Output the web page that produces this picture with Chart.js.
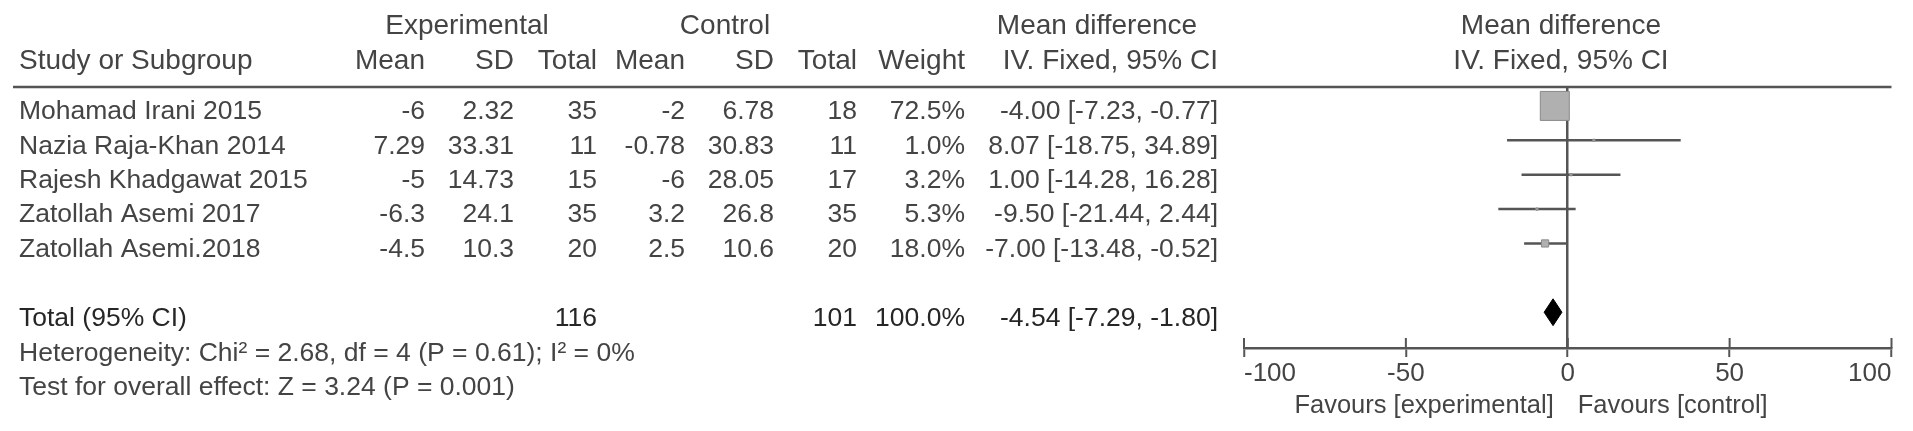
<!DOCTYPE html>
<html>
<head>
<meta charset="utf-8">
<script src="https://cdn.jsdelivr.net/npm/chart.js@4/dist/chart.umd.min.js"></script>
<style>
  body { margin: 0; background: #fff; }
  #wrap { width: 1913px; height: 431px; }
</style>
</head>
<body>
<div id="wrap"><canvas id="forest" width="1913" height="431"></canvas></div>
<script>
// study data
const studies = ['Mohamad Irani 2015', 'Nazia Raja-Khan 2014', 'Rajesh Khadgawat 2015', 'Zatollah Asemi 2017', 'Zatollah Asemi.2018'];
const expMean = [-6, 7.29, -5, -6.3, -4.5];
const expSD = [2.32, 33.31, 14.73, 24.1, 10.3];
const expTotal = [35, 11, 15, 35, 20];
const ctrlMean = [-2, -0.78, -6, 3.2, 2.5];
const ctrlSD = [6.78, 30.83, 28.05, 26.8, 10.6];
const ctrlTotal = [18, 11, 17, 35, 20];
const weights = [72.5, 1.0, 3.2, 5.3, 18.0];
const meanDiff = [-4.00, 8.07, 1.00, -9.50, -7.00];
const ciLow = [-7.23, -18.75, -14.28, -21.44, -13.48];
const ciHigh = [-0.77, 34.89, 16.28, 2.44, -0.52];

const pooled = [-4.54, -7.29, -1.80]; // estimate, low, high
const totalN = [116, 101];
const totalWeight = 100.0;
const xTicks = [-100, -50, 0, 50, 100];

const rowOf = studies.map((s, i) => i + 1);
const totalRow = 7;

const TXT = '#444';
const LINE = '#555';
const FONT = "'Liberation Sans', Arial, sans-serif";

const ciFmt = (m, lo, hi) => m.toFixed(2) + ' [' + lo.toFixed(2) + ', ' + hi.toFixed(2) + ']';

// one dataset per confidence interval line
const ciSets = studies.map((s, i) => ({
    label: s,
    data: [{ x: ciLow[i], y: rowOf[i] }, { x: ciHigh[i], y: rowOf[i] }],
    showLine: true,
    borderColor: LINE,
    borderWidth: 2.5,
    pointRadius: 0
}));

const diamondHalf = 0.39;

const tablePlugin = {
    id: 'table',
    afterDraw(chart) {
        const ctx = chart.ctx;
        const ys = chart.scales.y;
        const xs = chart.scales.x;
        const area = chart.chartArea;
        ctx.save();

        // header rule
        ctx.strokeStyle = LINE;
        ctx.lineWidth = 2.5;
        ctx.beginPath();
        ctx.moveTo(13, area.top);
        ctx.lineTo(area.right, area.top);
        ctx.stroke();

        // upper half of the axis ticks
        ctx.lineWidth = 2;
        xTicks.forEach(v => {
            const px = xs.getPixelForValue(v);
            ctx.beginPath();
            ctx.moveTo(px, area.bottom - 10);
            ctx.lineTo(px, area.bottom);
            ctx.stroke();
        });

        ctx.textBaseline = 'middle';
        const put = (t, x, y, align, size, color) => {
            ctx.font = (size || 26.5) + 'px ' + FONT;
            ctx.fillStyle = color || TXT;
            ctx.textAlign = align;
            ctx.fillText(t, x, y);
        };

        // headers
        put('Experimental', 467, 26, 'center', 28);
        put('Control', 725, 26, 'center', 28);
        put('Mean difference', 1097, 26, 'center', 28);
        put('Mean difference', 1561, 26, 'center', 28);
        put('Study or Subgroup', 19, 61, 'left', 28);
        const cols = [425, 514, 597, 685, 774, 857, 965];
        ['Mean', 'SD', 'Total', 'Mean', 'SD', 'Total', 'Weight'].forEach((h, k) => put(h, cols[k], 61, 'right', 28));
        put('IV. Fixed, 95% CI', 1218, 61, 'right', 28);
        put('IV. Fixed, 95% CI', 1561, 61, 'center', 28);

        // study rows
        studies.forEach((s, i) => {
            const y = ys.getPixelForValue(rowOf[i]) + 6;
            put(s, 19, y, 'left');
            const vals = [expMean[i], expSD[i], expTotal[i], ctrlMean[i], ctrlSD[i], ctrlTotal[i]].map(String);
            vals.push(weights[i].toFixed(1) + '%');
            vals.forEach((v, k) => put(v, cols[k], y, 'right'));
            put(ciFmt(meanDiff[i], ciLow[i], ciHigh[i]), 1218, y, 'right');
        });

        // total row
        const ty = ys.getPixelForValue(totalRow) + 6;
        const dark = '#262626';
        put('Total (95% CI)', 19, ty, 'left', 26.5, dark);
        put(String(totalN[0]), cols[2], ty, 'right', 26.5, dark);
        put(String(totalN[1]), cols[5], ty, 'right', 26.5, dark);
        put(totalWeight.toFixed(1) + '%', cols[6], ty, 'right', 26.5, dark);
        put(ciFmt(pooled[0], pooled[1], pooled[2]), 1218, ty, 'right', 26.5, dark);

        put('Heterogeneity: Chi\u00b2 = 2.68, df = 4 (P = 0.61); I\u00b2 = 0%', 19, 354, 'left');
        put('Test for overall effect: Z = 3.24 (P = 0.001)', 19, 388, 'left');

        // favours labels under the axis
        const zero = xs.getPixelForValue(0);
        put('Favours [experimental]', zero - 14, 406, 'right', 25.5);
        put('Favours [control]', zero + 10, 406, 'left', 25.5);
        ctx.restore();
    }
};

new Chart(document.getElementById('forest'), {
    type: 'scatter',
    data: {
        datasets: [
            {
                label: 'Study estimate',
                data: studies.map((s, i) => ({ x: meanDiff[i], y: rowOf[i] })),
                pointStyle: 'rect',
                pointRadius: c => Math.max(2.2, 0.4 * weights[c.dataIndex]) / Math.SQRT2,
                backgroundColor: '#b0b0b0',
                borderColor: '#8a8a8a',
                borderWidth: 1
            },
            {
                label: 'Total',
                data: [
                    { x: pooled[1], y: totalRow },
                    { x: pooled[0], y: totalRow - diamondHalf },
                    { x: pooled[2], y: totalRow },
                    { x: pooled[0], y: totalRow + diamondHalf },
                    { x: pooled[1], y: totalRow }
                ],
                showLine: true,
                fill: 'shape',
                backgroundColor: '#000',
                borderColor: '#000',
                borderWidth: 1,
                pointRadius: 0
            },
            ...ciSets
        ]
    },
    options: {
        responsive: false,
        animation: false,
        layout: { padding: { left: 1244, right: 20, top: 87, bottom: 0 } },
        plugins: {
            legend: { display: false },
            tooltip: { enabled: false }
        },
        scales: {
            x: {
                min: -100,
                max: 100,
                afterBuildTicks: s => { s.ticks = xTicks.map(v => ({ value: v })); },
                afterFit: s => { s.height = 431 - 87 - 261; },
                border: { display: true, color: LINE, width: 2.5 },
                grid: {
                    color: c => (c.tick && c.tick.value === 0) ? LINE : 'rgba(0,0,0,0)',
                    lineWidth: 2.5,
                    tickColor: LINE,
                    tickLength: 9,
                    tickWidth: 2
                },
                ticks: {
                    color: TXT,
                    font: { family: FONT, size: 26 },
                    padding: 1,
                    align: 'inner',
                    maxRotation: 0
                }
            },
            y: {
                reverse: true,
                min: 0.45,
                max: 8.04,
                display: false
            }
        }
    },
    plugins: [tablePlugin]
});
</script>
</body>
</html>
